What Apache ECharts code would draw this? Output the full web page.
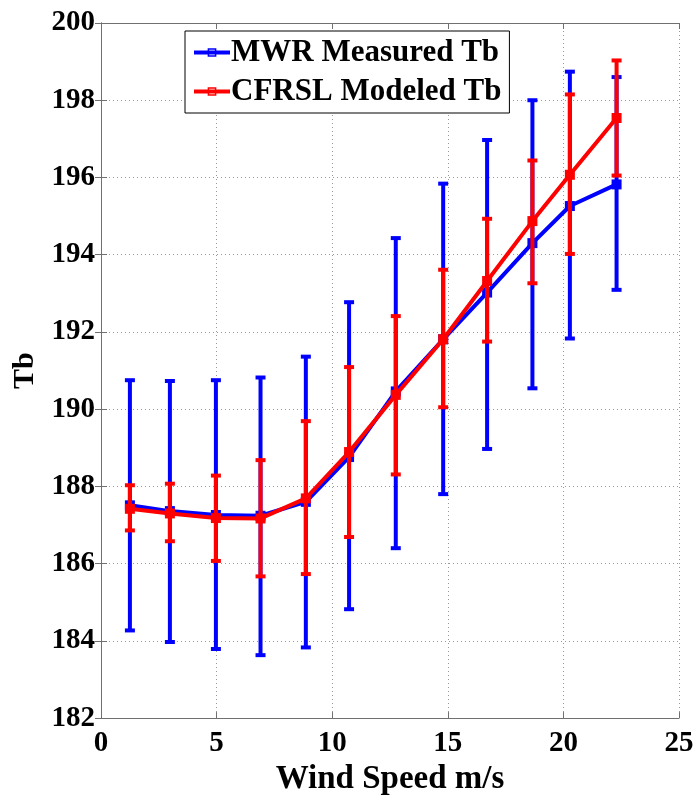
<!DOCTYPE html>
<html>
<head>
<meta charset="utf-8">
<script src="https://cdn.jsdelivr.net/npm/echarts@6/dist/echarts.min.js"></script>
<style>
  html, body { margin: 0; padding: 0; background: #fff; }
  #chart { width: 698px; height: 801px; }
</style>
</head>
<body>
<div id="chart"></div>
<script>
// Wind speed bin centres (m/s)
const windSpeed = [1.25, 2.98, 4.97, 6.90, 8.86, 10.73, 12.75, 14.80, 16.70, 18.66, 20.28, 22.30];

// MWR measured brightness temperature: mean and error-bar limits (K)
const mwrMean = [187.51, 187.36, 187.26, 187.24, 187.60, 188.76, 190.46, 191.81, 193.02, 194.30, 195.26, 195.82];
const mwrLow  = [184.27, 183.97, 183.79, 183.63, 183.83, 184.82, 186.40, 187.80, 188.97, 190.54, 191.83, 193.09];
const mwrHigh = [190.75, 190.73, 190.75, 190.82, 191.36, 192.77, 194.43, 195.84, 196.97, 198.00, 198.74, 198.60];

// CFRSL modeled brightness temperature: mean and error-bar limits (K)
const cfrslMean = [187.42, 187.30, 187.18, 187.17, 187.69, 188.89, 190.37, 191.81, 193.32, 194.87, 196.07, 197.54];
const cfrslLow  = [186.86, 186.58, 186.07, 185.67, 185.73, 186.69, 188.31, 190.05, 191.75, 193.26, 194.02, 196.05];
const cfrslHigh = [188.03, 188.07, 188.28, 188.68, 189.69, 191.09, 192.41, 193.61, 194.93, 196.44, 198.15, 199.03];

const seriesNames = ['MWR Measured Tb', 'CFRSL Modeled Tb'];
const BLUE = '#0000ff';
const RED = '#ff0000';
const FONT = '"Liberation Serif", "Times New Roman", serif';

function pairs(xs, ys) { return xs.map((x, i) => [x, ys[i]]); }
function barData(xs, lo, hi) { return xs.map((x, i) => [x, lo[i], hi[i]]); }

// Vertical error bar with horizontal caps at each end
function errorBarRenderer(color) {
  return function (params, api) {
    const x = api.value(0);
    const top = api.coord([x, api.value(2)]);
    const bot = api.coord([x, api.value(1)]);
    const half = 5;
    const style = { stroke: color, lineWidth: 4, fill: null };
    return {
      type: 'group',
      children: [
        { type: 'line', shape: { x1: top[0], y1: top[1], x2: bot[0], y2: bot[1] }, style },
        { type: 'line', shape: { x1: top[0] - half, y1: top[1], x2: top[0] + half, y2: top[1] }, style },
        { type: 'line', shape: { x1: bot[0] - half, y1: bot[1], x2: bot[0] + half, y2: bot[1] }, style }
      ]
    };
  };
}

const axisLineStyle = { color: '#707070', width: 1 };
const gridLine = { show: true, lineStyle: { color: '#9a9a9a', type: [1, 3], width: 1 } };
const tickLabel = { color: '#000', fontFamily: FONT, fontWeight: 'bold', fontSize: 29 };

const chart = echarts.init(document.getElementById('chart'), null, { renderer: 'canvas' });
chart.setOption({
  animation: false,
  backgroundColor: '#fff',
  grid: { left: 101, right: 19, top: 23, bottom: 70, containLabel: false },
  legend: {
    orient: 'vertical',
    left: 185,
    top: 31,
    padding: [6, 8, 6, 7],
    itemGap: 8,
    itemWidth: 36,
    itemHeight: 9,
    backgroundColor: '#fff',
    borderColor: '#000',
    borderWidth: 1,
    borderRadius: 0,
    textStyle: { color: '#000', fontFamily: FONT, fontWeight: 'bold', fontSize: 31, padding: [0, 0, 0, -4] },
    data: [
      { name: seriesNames[0], itemStyle: { color: 'rgba(0,0,0,0)', borderColor: BLUE, borderWidth: 1.5 }, lineStyle: { color: BLUE, width: 4 } },
      { name: seriesNames[1], itemStyle: { color: 'rgba(0,0,0,0)', borderColor: RED, borderWidth: 1.5 }, lineStyle: { color: RED, width: 4 } }
    ]
  },
  xAxis: [
    {
      type: 'value', min: 0, max: 25, interval: 5, position: 'bottom',
      name: 'Wind Speed m/s', nameLocation: 'middle', nameGap: 42,
      nameTextStyle: { color: '#000', fontFamily: FONT, fontWeight: 'bold', fontSize: 33 },
      axisLine: { show: true, lineStyle: axisLineStyle },
      axisTick: { show: true, inside: true, length: 6, lineStyle: axisLineStyle },
      axisLabel: Object.assign({ margin: 11 }, tickLabel),
      splitLine: gridLine
    },
    {
      type: 'value', min: 0, max: 25, interval: 5, position: 'top',
      axisLine: { show: true, lineStyle: axisLineStyle },
      axisTick: { show: true, inside: true, length: 6, lineStyle: axisLineStyle },
      axisLabel: { show: false }, splitLine: { show: false }
    }
  ],
  yAxis: [
    {
      type: 'value', min: 182, max: 200, interval: 2, position: 'left',
      name: 'Tb', nameLocation: 'middle', nameGap: 56, nameRotate: 90,
      nameTextStyle: { color: '#000', fontFamily: FONT, fontWeight: 'bold', fontSize: 30 },
      axisLine: { show: true, lineStyle: axisLineStyle },
      axisTick: { show: true, inside: true, length: 6, lineStyle: axisLineStyle },
      axisLabel: Object.assign({ margin: 6 }, tickLabel),
      splitLine: gridLine
    },
    {
      type: 'value', min: 182, max: 200, interval: 2, position: 'right',
      axisLine: { show: true, lineStyle: axisLineStyle },
      axisTick: { show: true, inside: true, length: 6, lineStyle: axisLineStyle },
      axisLabel: { show: false }, splitLine: { show: false }
    }
  ],
  series: [
    {
      name: seriesNames[0] + ' error', type: 'custom',
      data: barData(windSpeed, mwrLow, mwrHigh),
      encode: { x: 0, y: [1, 2] },
      renderItem: errorBarRenderer(BLUE), z: 2
    },
    {
      name: seriesNames[0], type: 'line',
      data: pairs(windSpeed, mwrMean),
      symbol: 'rect', symbolSize: 10, showSymbol: true,
      lineStyle: { color: BLUE, width: 4 },
      itemStyle: { color: BLUE }, z: 3
    },
    {
      name: seriesNames[1] + ' error', type: 'custom',
      data: barData(windSpeed, cfrslLow, cfrslHigh),
      encode: { x: 0, y: [1, 2] },
      renderItem: errorBarRenderer(RED), z: 4
    },
    {
      name: seriesNames[1], type: 'line',
      data: pairs(windSpeed, cfrslMean),
      symbol: 'rect', symbolSize: 10, showSymbol: true,
      lineStyle: { color: RED, width: 4 },
      itemStyle: { color: RED }, z: 5
    }
  ]
});
</script>
</body>
</html>
